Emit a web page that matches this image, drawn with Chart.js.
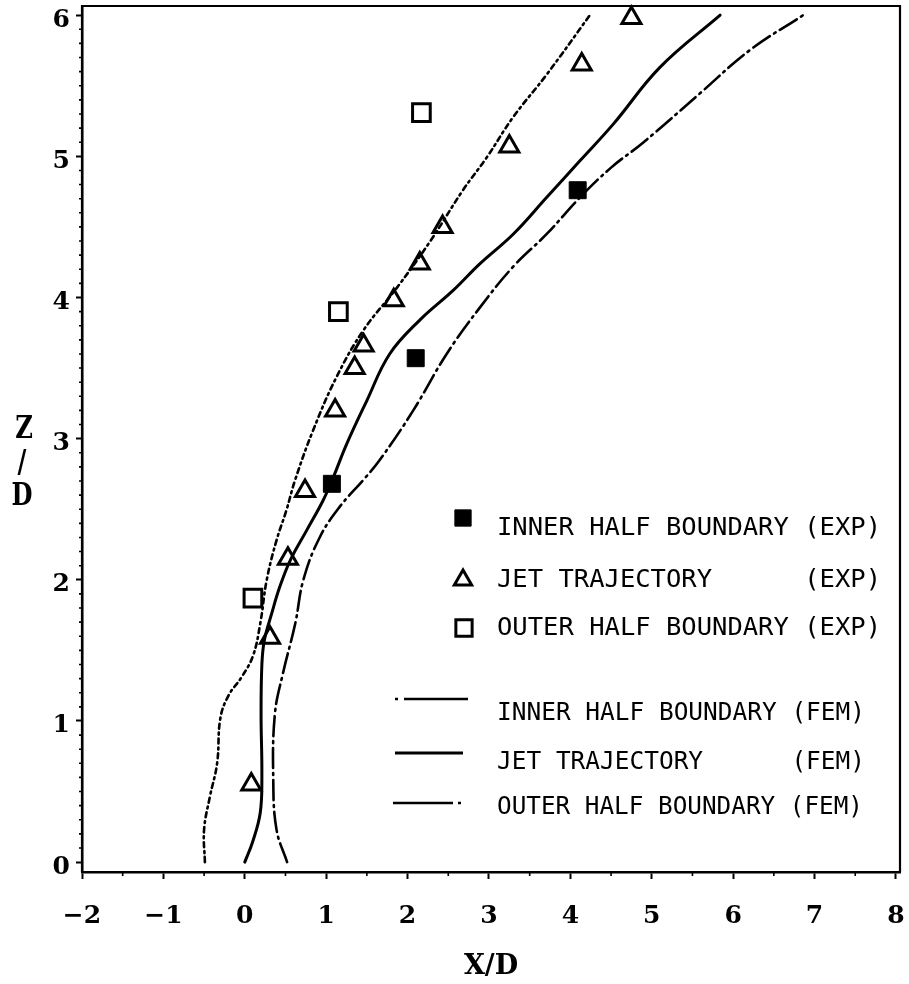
<!DOCTYPE html>
<html>
<head>
<meta charset="utf-8">
<script src="https://cdn.jsdelivr.net/npm/chart.js@4/dist/chart.umd.min.js"></script>
<style>
  html, body { margin: 0; padding: 0; background: #fff; }
  canvas { display: block; }
</style>
</head>
<body>
<canvas id="c" width="909" height="984"></canvas>
<script>
// Axis tick values
const xTicks = [-2, -1, 0, 1, 2, 3, 4, 5, 6, 7, 8];
const yTicks = [0, 1, 2, 3, 4, 5, 6];

// Experimental points (X/D, Z/D)
const innerExpX = [1.07, 2.10, 4.09];
const innerExpY = [2.68, 3.57, 4.76];
const jetExpX = [0.08, 0.31, 0.53, 0.74, 1.11, 1.35, 1.46, 1.83, 2.15, 2.43, 3.25, 4.14, 4.75];
const jetExpY = [0.55, 1.59, 2.15, 2.63, 3.20, 3.50, 3.66, 3.98, 4.24, 4.50, 5.07, 5.65, 5.98];
const outerExpX = [0.10, 1.15, 2.17];
const outerExpY = [1.87, 3.90, 5.31];

// Finite element predictions (X/D, Z/D)
const innerFemX = [0.52, 0.39, 0.35, 0.37, 0.47, 0.62, 0.72, 0.92, 1.17, 1.46, 1.66, 2.07, 2.48, 2.89, 3.30, 3.71, 4.12, 4.50, 4.90, 5.60, 6.20, 6.86];
const innerFemY = [0.00, 0.23, 0.58, 1.05, 1.34, 1.69, 2.00, 2.30, 2.52, 2.71, 2.85, 3.20, 3.60, 3.93, 4.22, 4.45, 4.71, 4.92, 5.10, 5.45, 5.75, 6.00];
const jetFemX = [0.00, 0.10, 0.19, 0.21, 0.20, 0.21, 0.24, 0.33, 0.43, 0.56, 0.76, 0.96, 1.09, 1.25, 1.50, 1.78, 2.15, 2.56, 2.89, 3.30, 3.71, 4.12, 4.53, 5.10, 5.84];
const jetFemY = [0.00, 0.15, 0.35, 0.60, 1.05, 1.40, 1.57, 1.76, 1.95, 2.14, 2.35, 2.56, 2.73, 2.96, 3.27, 3.60, 3.84, 4.05, 4.24, 4.45, 4.71, 4.97, 5.23, 5.63, 6.00];
const outerFemX = [-0.49, -0.50, -0.43, -0.34, -0.30, -0.20, -0.04, 0.10, 0.19, 0.27, 0.39, 0.51, 0.62, 0.84, 1.13, 1.46, 1.87, 2.28, 2.68, 2.97, 3.30, 3.71, 4.24];
const outerFemY = [0.00, 0.23, 0.46, 0.70, 1.02, 1.18, 1.31, 1.46, 1.69, 2.00, 2.28, 2.49, 2.71, 3.06, 3.44, 3.77, 4.07, 4.40, 4.76, 4.99, 5.28, 5.58, 6.00];

// Series labels
const seriesLabels = [
  'INNER HALF BOUNDARY (EXP)',
  'JET TRAJECTORY      (EXP)',
  'OUTER HALF BOUNDARY (EXP)',
  'INNER HALF BOUNDARY (FEM)',
  'JET TRAJECTORY      (FEM)',
  'OUTER HALF BOUNDARY (FEM)'
];

const pts = (xs, ys) => xs.map((x, i) => ({ x: x, y: ys[i] }));
const fmt = v => (v < 0 ? '\u2212' + Math.abs(v) : String(v));
const INK = '#000';
const NONE = 'rgba(0,0,0,0)';
const serif = 'DejaVu Serif';

const markerSet = (label, data, style, radius, fill, bw) => ({
  label: label, data: data, showLine: false, clip: false,
  pointStyle: style, pointRadius: radius, pointHoverRadius: radius,
  pointBackgroundColor: fill, pointBorderColor: INK, pointBorderWidth: bw,
  backgroundColor: fill, borderColor: INK
});
const curveSet = (label, data, dash, width) => ({
  label: label, data: data, showLine: true, clip: 4,
  pointRadius: 0, pointHoverRadius: 0,
  borderColor: INK, backgroundColor: INK, borderWidth: width,
  borderDash: dash, tension: 0.4, fill: false,
  borderCapStyle: 'round'
});

const datasets = [
  markerSet(seriesLabels[0], pts(innerExpX, innerExpY), 'rect', 12, INK, 1),
  markerSet(seriesLabels[1], pts(jetExpX, jetExpY), 'triangle', 11, NONE, 3),
  markerSet(seriesLabels[2], pts(outerExpX, outerExpY), 'rect', 12.5, NONE, 3),
  curveSet(seriesLabels[3], pts(innerFemX, innerFemY), [20, 5, 2, 5], 2.6),
  curveSet(seriesLabels[4], pts(jetFemX, jetFemY), [], 3),
  curveSet(seriesLabels[5], pts(outerFemX, outerFemY), [5, 4, 2, 4], 2.6)
];

// White page background
const background = {
  id: 'background',
  beforeDraw(chart) {
    const ctx = chart.ctx;
    ctx.save();
    ctx.fillStyle = '#fff';
    ctx.fillRect(0, 0, chart.width, chart.height);
    ctx.restore();
  }
};

// Closed frame round the plotting area, plus minor tick marks
const frame = {
  id: 'frame',
  afterDraw(chart) {
    const { ctx, chartArea: a, scales } = chart;
    ctx.save();
    ctx.strokeStyle = INK;
    ctx.lineWidth = 2.2;
    ctx.beginPath();
    ctx.moveTo(a.left, a.bottom);
    ctx.lineTo(a.left, a.top);
    ctx.lineTo(a.right, a.top);
    ctx.lineTo(a.right, a.bottom);
    ctx.stroke();
    ctx.lineWidth = 1.6;
    ctx.beginPath();
    for (let i = 0; i < xTicks.length - 1; i++) {
      const px = scales.x.getPixelForValue((xTicks[i] + xTicks[i + 1]) / 2);
      ctx.moveTo(px, a.bottom);
      ctx.lineTo(px, a.bottom + 4);
    }
    for (let i = 0; i < yTicks.length - 1; i++) {
      for (let k = 1; k < 10; k++) {
        const py = scales.y.getPixelForValue(yTicks[i] + k / 10);
        ctx.moveTo(a.left, py);
        ctx.lineTo(a.left - 3, py);
      }
    }
    ctx.stroke();
    ctx.restore();
  }
};

// Stacked Z / D axis title
const yTitle = {
  id: 'yTitle',
  afterDraw(chart) {
    const ctx = chart.ctx;
    ctx.save();
    ctx.fillStyle = INK;
    ctx.textAlign = 'center';
    ctx.textBaseline = 'middle';
    ctx.font = 'bold 31px "' + serif + '"';
    const parts = [['Z', 24, 430], ['/', 22, 464], ['D', 22, 497]];
    parts.forEach(([t, x, y]) => {
      ctx.save();
      ctx.translate(x, y);
      ctx.scale(0.78, 1);
      ctx.fillText(t, 0, 0);
      ctx.restore();
    });
    ctx.restore();
  }
};

// Legend drawn inside the plotting area
const insideLegend = {
  id: 'insideLegend',
  afterDraw(chart) {
    const ctx = chart.ctx;
    const ds = chart.data.datasets;
    const rows = [
      { sym: [463, 518], textY: 528, w: 384 },
      { sym: [463, 580], textY: 580, w: 384 },
      { sym: [464, 628], textY: 628, w: 384 },
      { line: [395, 468, 699], dash: [3, 6, 80], textY: 713, w: 368 },
      { line: [395, 463, 753], dash: [], textY: 762, w: 368 },
      { line: [393, 463, 803], dash: [60, 5, 3, 20], textY: 807, w: 366 }
    ];
    ctx.save();
    rows.forEach((r, i) => {
      const d = ds[i];
      ctx.strokeStyle = INK;
      if (r.sym) {
        ctx.fillStyle = d.pointBackgroundColor;
        ctx.lineWidth = d.pointBorderWidth;
        Chart.helpers.drawPoint(ctx, {
          pointStyle: d.pointStyle,
          radius: d.pointStyle === 'triangle' ? 10 : 11.5,
          rotation: 0,
          borderWidth: d.pointBorderWidth
        }, r.sym[0], r.sym[1]);
      } else {
        ctx.lineWidth = d.borderWidth;
        ctx.setLineDash(r.dash);
        ctx.beginPath();
        ctx.moveTo(r.line[0], r.line[2]);
        ctx.lineTo(r.line[1], r.line[2]);
        ctx.stroke();
        ctx.setLineDash([]);
      }
      ctx.fillStyle = INK;
      ctx.font = '25.6px "DejaVu Sans Mono"';
      ctx.textAlign = 'left';
      ctx.textBaseline = 'middle';
      ctx.fillText(d.label, 497, r.textY, r.w);
    });
    ctx.restore();
  }
};

new Chart(document.getElementById('c'), {
  type: 'scatter',
  data: { datasets: datasets },
  options: {
    responsive: false,
    animation: false,
    devicePixelRatio: 1,
    layout: { autoPadding: false, padding: { top: 6, right: 9, left: 0, bottom: 0 } },
    plugins: { legend: { display: false }, tooltip: { enabled: false } },
    scales: {
      x: {
        type: 'linear', position: 'bottom', min: -2, max: 8.05,
        afterBuildTicks: s => { s.ticks = xTicks.map(v => ({ value: v })); },
        afterFit: s => { s.height = 112; s.paddingLeft = 0; s.paddingRight = 0; },
        grid: { drawOnChartArea: false, drawTicks: true, tickLength: 7, tickWidth: 2, tickColor: INK },
        border: { display: true, color: INK, width: 2.5 },
        ticks: {
          color: INK, padding: 22, maxRotation: 0, autoSkip: false,
          font: { family: serif, weight: 'bold', size: 25 },
          callback: v => fmt(v)
        },
        title: {
          display: true, text: 'X/D', color: INK,
          font: { family: serif, weight: 'bold', size: 27 },
          padding: { top: 0, bottom: 1 }
        }
      },
      y: {
        type: 'linear', position: 'left', min: -0.07, max: 6.065,
        afterBuildTicks: s => { s.ticks = yTicks.map(v => ({ value: v })); },
        afterFit: s => { s.width = 82; s.paddingTop = 0; s.paddingBottom = 0; },
        grid: { drawOnChartArea: false, drawTicks: true, tickLength: 6, tickWidth: 2, tickColor: INK },
        border: { display: true, color: INK, width: 2.5 },
        ticks: {
          color: INK, padding: 6, autoSkip: false, labelOffset: 5,
          font: { family: serif, weight: 'bold', size: 25 },
          callback: v => fmt(v)
        }
      }
    }
  },
  plugins: [background, frame, yTitle, insideLegend]
});
</script>
</body>
</html>
